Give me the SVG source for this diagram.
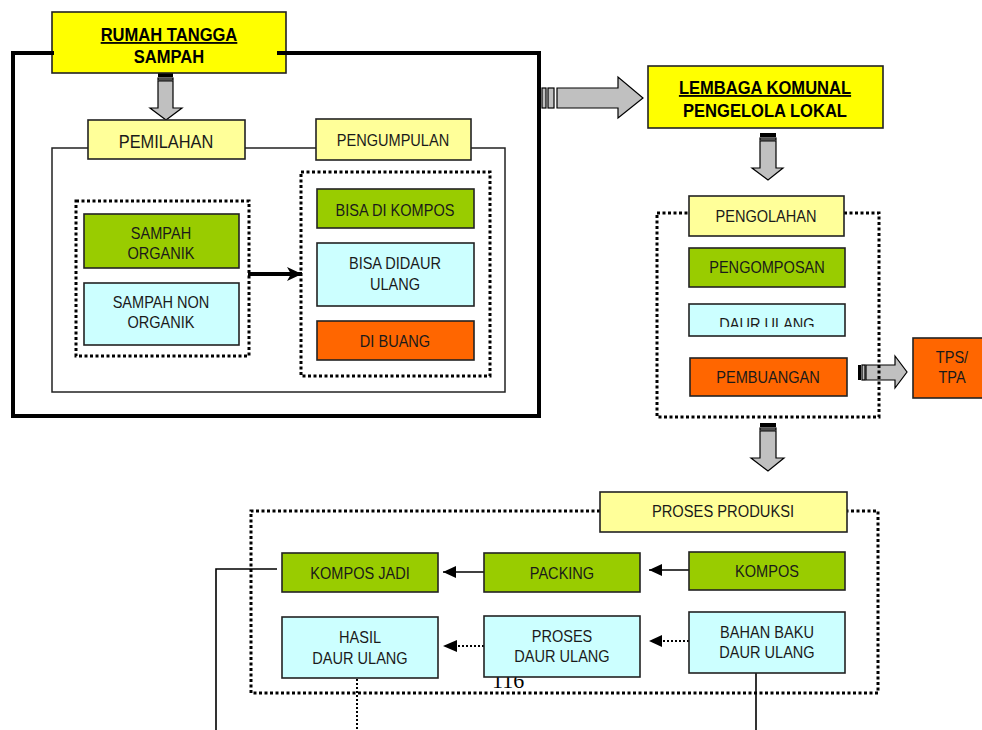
<svg xmlns="http://www.w3.org/2000/svg" width="982" height="730" viewBox="0 0 982 730">
<style>
.t{font-family:"Liberation Sans",Arial,sans-serif;font-size:16px;fill:#1a1a1a;text-anchor:middle}
.tb{font-weight:bold;font-size:18px;fill:#000}
.box{stroke:#222;stroke-width:1.6}
.y{fill:#FFFF00}.ly{fill:#FFFF99}.g{fill:#99CC00}.c{fill:#CCFFFF}.o{fill:#FF6600}
.dot{fill:none;stroke:#000;stroke-width:3;stroke-dasharray:3 2.5}
.blk{fill:#C0C0C0;stroke:#000;stroke-width:1.2}
.ln{fill:none;stroke:#000;stroke-width:1.6}
.dln{fill:none;stroke:#000;stroke-width:2;stroke-dasharray:2 2}
</style>
<defs>
<marker id="ah" markerUnits="userSpaceOnUse" markerWidth="14" markerHeight="13" refX="13" refY="6" orient="auto">
<path d="M0,0 L13,6 L0,12 z" fill="#000"/>
</marker>
<marker id="ah2" markerUnits="userSpaceOnUse" markerWidth="16" markerHeight="15" refX="15" refY="7" orient="auto">
<path d="M0,0 L15,7 L0,14 L4,7 z" fill="#000"/>
</marker>
<clipPath id="clipDaur"><rect x="689" y="300" width="156" height="27"/></clipPath>
</defs>

<!-- household frame -->
<g id="frame-rumah">
<rect x="52" y="148" width="453" height="244" fill="none" stroke="#222" stroke-width="1.5"/>
</g>

<!-- connectors -->
<g id="connectors">
<!-- down arrow from RUMAH TANGGA -->
<rect x="158" y="73" width="15" height="4" fill="#000"/>
<rect x="158" y="78" width="15" height="2" class="blk"/>
<polygon class="blk" points="158,81 173,81 173,108 182,108 166,120 150,108 158,108"/>
<!-- right arrow to LEMBAGA -->
<rect x="542" y="88" width="4" height="20" class="blk"/>
<rect x="548" y="88" width="6" height="20" class="blk"/>
<polygon class="blk" points="557,88 618,88 618,77 643,98 618,118 618,108 557,108"/>
<!-- down arrow from LEMBAGA -->
<rect x="760" y="133" width="16" height="4" fill="#000"/>
<rect x="760" y="138" width="16" height="2" class="blk"/>
<polygon class="blk" points="760,141 776,141 776,168 783,168 768,180 752,168 760,168"/>
<!-- right arrow to TPS/TPA -->
<rect x="858" y="365" width="3" height="15" fill="#000"/>
<rect x="862" y="365" width="3" height="15" class="blk"/>
<polygon class="blk" points="866,365 895,365 895,356 907,372 895,388 895,380 866,380"/>
<!-- down arrow from PENGOLAHAN -->
<rect x="760" y="423" width="16" height="4" fill="#000"/>
<rect x="760" y="428" width="16" height="2" class="blk"/>
<polygon class="blk" points="760,431 776,431 776,458 784,458 768,471 751,458 760,458"/>
<!-- sorting arrow -->
<line x1="248" y1="274" x2="302" y2="274" stroke="#000" stroke-width="4" marker-end="url(#ah2)"/>
<!-- production arrows -->
<line x1="689" y1="570" x2="649" y2="570" class="ln" marker-end="url(#ah)"/>
<line x1="484" y1="572" x2="443" y2="572" class="ln" marker-end="url(#ah)"/>
<line x1="689" y1="641" x2="652" y2="641" class="dln"/>
<path d="M649,641 L662,635 L662,647 z" fill="#000"/>
<line x1="484" y1="646" x2="446" y2="646" class="dln"/>
<path d="M443,646 L457,640 L457,652 z" fill="#000"/>
<polyline points="277,569 216,569 216,730" class="ln"/>
<line x1="357" y1="679" x2="357" y2="730" class="dln"/>
<line x1="756" y1="673" x2="756" y2="730" class="ln"/>
</g>

<g id="rumah-tangga">
<rect x="52" y="12" width="234" height="61" class="box y"/>
<text class="t tb" text-decoration="underline" transform="translate(169,41) scale(0.92,1)">RUMAH TANGGA</text>
<text class="t tb" transform="translate(169,63) scale(0.92,1)">SAMPAH</text>
</g>
<g id="outer-frame">
<path d="M54,53 L13,53 L13,416 L539,416 L539,53 L277,53" fill="none" stroke="#000" stroke-width="4"/>
</g>

<g id="pemilahan">
<rect x="88" y="120" width="157" height="39" class="box ly"/>
<text class="t" style="font-size:18px" transform="translate(166,148) scale(0.91,1)">PEMILAHAN</text>
</g>
<g id="pengumpulan">
<rect x="316" y="119" width="155" height="41" class="box ly"/>
<text class="t" transform="translate(393,146) scale(0.91,1)">PENGUMPULAN</text>
</g>

<g id="group-sampah">
<rect x="76" y="201" width="173" height="155" class="dot"/>
</g>
<g id="sampah-organik">
<rect x="84" y="214" width="155" height="54" class="box g"/>
<text class="t" transform="translate(161,239) scale(0.91,1)">SAMPAH</text>
<text class="t" transform="translate(161,259) scale(0.91,1)">ORGANIK</text>
</g>
<g id="sampah-non-organik">
<rect x="84" y="283" width="155" height="62" class="box c"/>
<text class="t" transform="translate(161,308) scale(0.91,1)">SAMPAH NON</text>
<text class="t" transform="translate(161,328) scale(0.91,1)">ORGANIK</text>
</g>

<g id="group-kumpul">
<rect x="301" y="172" width="189" height="204" class="dot"/>
</g>
<g id="bisa-kompos">
<rect x="317" y="189" width="157" height="39" class="box g"/>
<text class="t" transform="translate(395,216) scale(0.91,1)">BISA DI KOMPOS</text>
</g>
<g id="bisa-daur">
<rect x="317" y="243" width="157" height="63" class="box c"/>
<text class="t" transform="translate(395,269) scale(0.91,1)">BISA DIDAUR</text>
<text class="t" transform="translate(395,290) scale(0.91,1)">ULANG</text>
</g>
<g id="di-buang">
<rect x="317" y="321" width="157" height="39" class="box o"/>
<text class="t" transform="translate(395,347) scale(0.91,1)">DI BUANG</text>
</g>

<g id="lembaga">
<rect x="648" y="66" width="235" height="62" class="box y"/>
<text class="t tb" text-decoration="underline" transform="translate(765,94) scale(0.92,1)">LEMBAGA KOMUNAL</text>
<text class="t tb" transform="translate(765,117) scale(0.92,1)">PENGELOLA LOKAL</text>
</g>

<g id="group-pengolahan">
<rect x="657" y="213" width="222" height="204" class="dot"/>
</g>
<g id="pengolahan">
<rect x="689" y="196" width="155" height="40" class="box ly"/>
<text class="t" transform="translate(766,222) scale(0.91,1)">PENGOLAHAN</text>
</g>
<g id="pengomposan">
<rect x="689" y="248" width="156" height="39" class="box g"/>
<text class="t" transform="translate(767,273) scale(0.91,1)">PENGOMPOSAN</text>
</g>
<g id="daur-ulang">
<rect x="689" y="304" width="156" height="32" class="box c"/>
<g clip-path="url(#clipDaur)">
<text class="t" transform="translate(767,330) scale(0.91,1)">DAUR ULANG</text>
</g>
</g>
<g id="pembuangan">
<rect x="690" y="358" width="157" height="38" class="box o"/>
<text class="t" transform="translate(768,383) scale(0.91,1)">PEMBUANGAN</text>
</g>
<g id="tps-tpa">
<rect x="913" y="338" width="80" height="60" class="box o"/>
<text class="t" transform="translate(952,363) scale(0.91,1)">TPS/</text>
<text class="t" transform="translate(952,383) scale(0.91,1)">TPA</text>
</g>

<g id="group-produksi">
<polyline points="600,511 251,511 251,693 878,693 878,511 847,511" class="dot"/>
</g>
<g id="proses-produksi">
<rect x="600" y="492" width="247" height="40" class="box ly"/>
<text class="t" transform="translate(723,517) scale(0.92,1)">PROSES PRODUKSI</text>
</g>
<g id="kompos-jadi">
<rect x="282" y="553" width="156" height="39" class="box g"/>
<text class="t" transform="translate(360,579) scale(0.91,1)">KOMPOS JADI</text>
</g>
<g id="packing">
<rect x="484" y="553" width="156" height="39" class="box g"/>
<text class="t" transform="translate(562,579) scale(0.91,1)">PACKING</text>
</g>
<g id="kompos">
<rect x="689" y="552" width="156" height="38" class="box g"/>
<text class="t" transform="translate(767,577) scale(0.91,1)">KOMPOS</text>
</g>
<g id="hasil-daur-ulang">
<rect x="282" y="617" width="156" height="61" class="box c"/>
<text class="t" transform="translate(360,643) scale(0.91,1)">HASIL</text>
<text class="t" transform="translate(360,664) scale(0.91,1)">DAUR ULANG</text>
</g>
<g id="page-number">
<text x="492" y="688" style="font-family:'Liberation Serif','Times New Roman',serif;font-size:22px;fill:#000">116</text>
</g>
<g id="proses-daur-ulang">
<rect x="484" y="616" width="156" height="61" class="box c"/>
<text class="t" transform="translate(562,642) scale(0.91,1)">PROSES</text>
<text class="t" transform="translate(562,662) scale(0.91,1)">DAUR ULANG</text>
</g>
<g id="bahan-baku">
<rect x="689" y="612" width="156" height="61" class="box c"/>
<text class="t" transform="translate(767,638) scale(0.91,1)">BAHAN BAKU</text>
<text class="t" transform="translate(767,658) scale(0.91,1)">DAUR ULANG</text>
</g>
</svg>
